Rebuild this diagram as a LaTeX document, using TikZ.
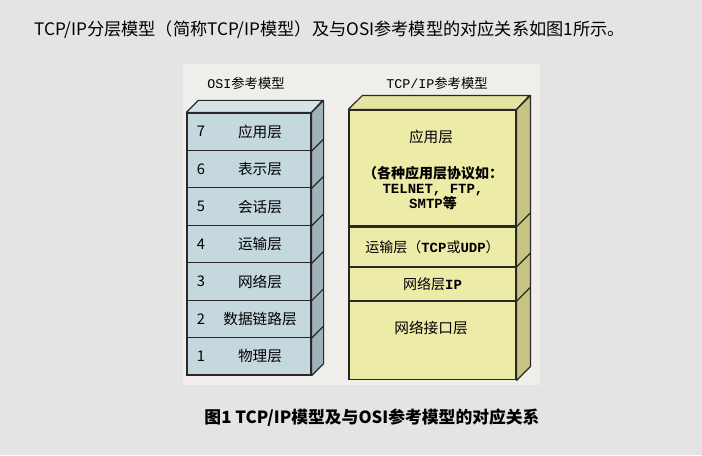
\documentclass[tikz,border=0pt]{standalone}
\usepackage{fontspec}
\setmainfont{Noto Sans CJK SC}
\setmonofont{Liberation Mono}
\usepackage{tikz}
\usetikzlibrary{positioning, calc}
\definecolor{pagebg}{RGB}{228, 228, 228}
\definecolor{panelbg}{RGB}{239, 238, 234}
\definecolor{osifront}{RGB}{197, 216, 222}
\definecolor{osiside}{RGB}{160, 178, 185}
\definecolor{ositop}{RGB}{214, 227, 230}
\definecolor{tcpfront}{RGB}{237, 235, 168}
\definecolor{tcpside}{RGB}{198, 196, 128}
\definecolor{tcptop}{RGB}{229, 228, 160}
\definecolor{edge}{RGB}{40, 40, 40}
\newcommand{\mono}[1]{{\ttfamily\bfseries #1}}

\begin{document}
\begin{tikzpicture}[
  x=0.75pt, y=-0.75pt,
  osilayer/.style={draw=edge, fill=osifront, line width=0.9pt, minimum width=93pt, minimum height=28.1pt, inner sep=0pt},
  tcplayer/.style={draw=edge, fill=tcpfront, line width=0.9pt, minimum width=125.2pt, inner sep=0pt},
  face/.style={draw=edge, line width=0.9pt, line join=round},
  layertext/.style={font=\fontsize{11}{13}\selectfont, text=black},
  title/.style={font=\fontsize{10}{12}\selectfont, text=black}
]
  % Background
  \fill[pagebg] (0,0) rectangle (702,455);
  \useasboundingbox (0,0) rectangle (702,455);
  \fill[panelbg] (183,64) rectangle (540,385);

  % Heading and caption
  \node[anchor=west, font=\fontsize{12.9}{15}\selectfont, text=black, inner sep=0pt] (head) at (34,30)
    {TCP/IP分层模型（简称TCP/IP模型）及与OSI参考模型的对应关系如图1所示。};
  \node[font=\fontsize{12.6}{15}\selectfont\bfseries, text=black, inner sep=0pt] (caption) at (372,418)
    {图1 TCP/IP模型及与OSI参考模型的对应关系};

  % OSI stack
  \node[title] (osititle) at (246,83) {{\ttfamily OSI}参考模型};
  \foreach \n/\name [count=\i] in {7/应用层, 6/表示层, 5/会话层, 4/运输层, 3/网络层, 2/数据链路层, 1/物理层} {
    \node[osilayer] (osi\n) at (249, {113 + 37.43*(\i-0.5)}) {};
    \node[layertext, right=11pt of osi\n.west, anchor=center] (osinum\n) {\n};
    \node[layertext] (osiname\n) at (260, {113 + 37.43*(\i-0.5)}) {\name};
  }
  \draw[face, fill=ositop] (osi7.north west) -- ++(12,-12) -- ++(124,0) -- (osi7.north east) -- cycle;
  \draw[face, fill=osiside] (osi7.north east) -- ++(12,-12) -- ($(osi1.south east)+(12,-12)$) -- (osi1.south east) -- cycle;
  \foreach \n in {7,6,5,4,3,2} {
    \draw[face] (osi\n.south east) -- ++(12,-12);
  }

  % TCP/IP stack
  \node[title] (tcptitle) at (437,83) {{\ttfamily TCP/IP}参考模型};
  \node[tcplayer, minimum height=87pt] (app) at (432.5,168) {};
  \node[tcplayer, minimum height=29.3pt, below=0pt of app] (trans) {};
  \node[tcplayer, minimum height=24.8pt, below=0pt of trans] (net) {};
  \node[tcplayer, minimum height=58.5pt, below=0pt of net] (link) {};
  \draw[face, fill=tcptop] (app.north west) -- ++(14,-14) -- ++(167,0) -- (app.north east) -- cycle;
  \draw[face, fill=tcpside] (app.north east) -- ++(14,-14) -- ($(link.south east)+(14,-14)$) -- (link.south east) -- cycle;
  \foreach \l in {app, trans, net} {
    \draw[face] (\l.south east) -- ++(14,-14);
  }

  % TCP/IP labels
  \node[layertext] (apptext) at (431,137) {应用层};
  \node[font=\fontsize{10.5}{12}\selectfont\bfseries, align=center, inner sep=0pt] (appproto) at (433,188)
    {（各种应用层协议如：\\[-1pt]\mono{TELNET, FTP,}\\[-1pt]\mono{SMTP}等};
  \node[font=\fontsize{10.5}{12}\selectfont] (transtext) at (trans.center) {运输层（\mono{TCP}或\mono{UDP}）};
  \node[font=\fontsize{10.5}{12}\selectfont] (nettext) at (net.center) {网络层\mono{IP}};
  \node[layertext] (linktext) at (431,328) {网络接口层};
\end{tikzpicture}
\end{document}
